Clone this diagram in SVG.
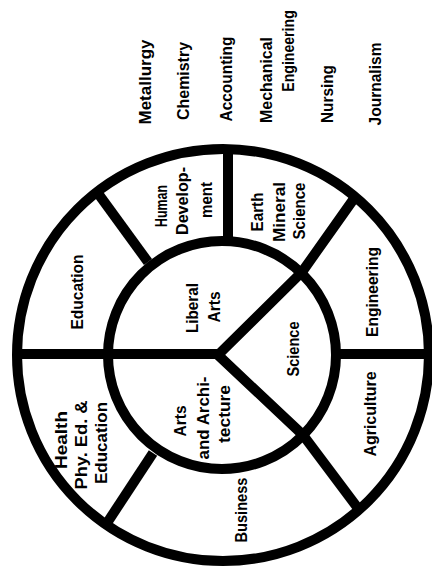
<svg xmlns="http://www.w3.org/2000/svg" width="432" height="573" viewBox="0 0 432 573">
<style>
.ring{fill:none;stroke:#000;stroke-width:10}
.div{fill:none;stroke:#000;stroke-width:10;stroke-linejoin:round}
text{font-family:"Liberation Sans","DejaVu Sans",Arial,sans-serif;font-weight:bold;font-size:17px;fill:#000;text-anchor:middle}
</style>
<rect width="432" height="573" fill="#fff"/>
<g id="wheel">
<circle class="ring" cx="223" cy="355" r="206"/>
<circle class="ring" cx="222" cy="355" r="114"/>
</g>
<g id="connectors">
<polyline class="div" points="17,354 219,354"/>
<polyline class="div" points="335,354 429,354"/>
<polyline class="div" points="228,148 228,243"/>
<polyline class="div" points="218,355 302,272 353,200"/>
<polyline class="div" points="218,355 303,435 357,507"/>
<polyline class="div" points="97,192 148,262"/>
<polyline class="div" points="153,453 107,523"/>
</g>
<g id="majors">
<text transform="translate(151,82) rotate(-90)" textLength="85" lengthAdjust="spacingAndGlyphs">Metallurgy</text>
<text transform="translate(189,81) rotate(-90)" textLength="78" lengthAdjust="spacingAndGlyphs">Chemistry</text>
<text transform="translate(232,79) rotate(-90)" textLength="85" lengthAdjust="spacingAndGlyphs">Accounting</text>
<text transform="translate(272,80) rotate(-90)" textLength="86" lengthAdjust="spacingAndGlyphs">Mechanical</text>
<text transform="translate(294,51) rotate(-90) scale(0.83,1)">Engineering</text>
<text transform="translate(333,94) rotate(-90)" textLength="58" lengthAdjust="spacingAndGlyphs">Nursing</text>
<text transform="translate(381,84) rotate(-90)" textLength="83" lengthAdjust="spacingAndGlyphs">Journalism</text>
</g>
<g id="liberal-arts">
<text transform="translate(198,308) rotate(-90)" textLength="50" lengthAdjust="spacingAndGlyphs">Liberal</text>
<text transform="translate(220,307) rotate(-90)" textLength="31" lengthAdjust="spacingAndGlyphs">Arts</text>
</g>
<g id="science">
<text transform="translate(299,349) rotate(-90)" textLength="55" lengthAdjust="spacingAndGlyphs">Science</text>
</g>
<g id="arts-architecture">
<text transform="translate(186,421) rotate(-90)" textLength="31" lengthAdjust="spacingAndGlyphs">Arts</text>
<text transform="translate(209,418) rotate(-90)" textLength="83" lengthAdjust="spacingAndGlyphs">and Archi-</text>
<text transform="translate(230,414) rotate(-90)" textLength="58" lengthAdjust="spacingAndGlyphs">tecture</text>
</g>
<g id="education">
<text transform="translate(83,292) rotate(-90)" textLength="75" lengthAdjust="spacingAndGlyphs">Education</text>
</g>
<g id="human-development">
<text transform="translate(167,206) rotate(-90)" textLength="42" lengthAdjust="spacingAndGlyphs">Human</text>
<text transform="translate(188,201) rotate(-90)" textLength="68" lengthAdjust="spacingAndGlyphs">Develop-</text>
<text transform="translate(212,200) rotate(-90)" textLength="36" lengthAdjust="spacingAndGlyphs">ment</text>
</g>
<g id="earth-mineral-science">
<text transform="translate(263,212) rotate(-90)" textLength="39" lengthAdjust="spacingAndGlyphs">Earth</text>
<text transform="translate(285,212) rotate(-90)" textLength="60" lengthAdjust="spacingAndGlyphs">Mineral</text>
<text transform="translate(305,211) rotate(-90)" textLength="57" lengthAdjust="spacingAndGlyphs">Science</text>
</g>
<g id="engineering">
<text transform="translate(378,292) rotate(-90)" textLength="90" lengthAdjust="spacingAndGlyphs">Engineering</text>
</g>
<g id="agriculture">
<text transform="translate(376,414) rotate(-90)" textLength="85" lengthAdjust="spacingAndGlyphs">Agriculture</text>
</g>
<g id="business">
<text transform="translate(247,510) rotate(-90)" textLength="65" lengthAdjust="spacingAndGlyphs">Business</text>
</g>
<g id="health">
<text transform="translate(67,440) rotate(-90)" textLength="58" lengthAdjust="spacingAndGlyphs">Health</text>
<text transform="translate(87,445) rotate(-90)" textLength="89" lengthAdjust="spacingAndGlyphs">Phy. Ed. &amp;</text>
<text transform="translate(107,443) rotate(-90)" textLength="82" lengthAdjust="spacingAndGlyphs">Education</text>
</g>
</svg>
